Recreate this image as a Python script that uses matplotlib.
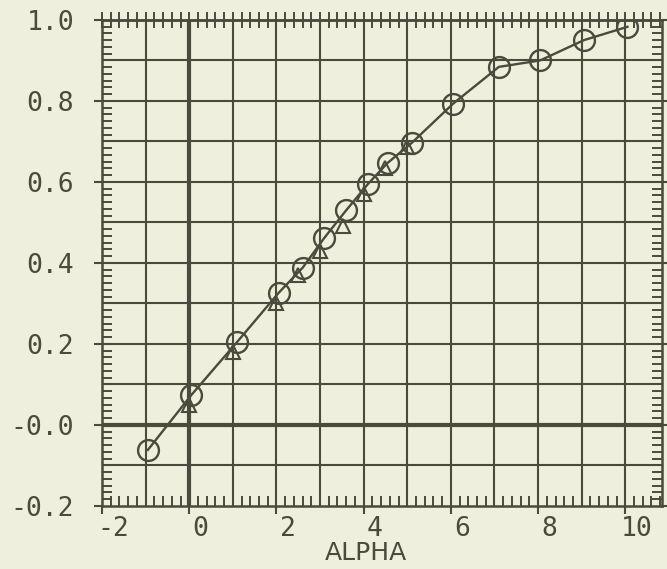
import matplotlib
matplotlib.use('Agg')
import matplotlib.pyplot as plt
import matplotlib.transforms as mtransforms
from matplotlib.ticker import MultipleLocator, FixedLocator, FixedFormatter
import numpy as np

# values
circle_alpha = [-0.95, 0.05, 1.1, 2.05, 2.6, 3.1, 3.6, 4.1, 4.55, 5.1,
                6.05, 7.1, 8.05, 9.05, 10.05]
circle_value = [-0.062, 0.074, 0.205, 0.326, 0.388, 0.462, 0.53, 0.595,
                0.647, 0.696, 0.793, 0.884, 0.9, 0.95, 0.983]
tri_alpha = [0.0, 1.0, 1.98, 2.5, 3.0, 3.52, 4.0, 4.5, 5.0]
tri_value = [0.05, 0.18, 0.30, 0.37, 0.43, 0.49, 0.57, 0.635, 0.686]

xticks = [-2, 0, 2, 4, 6, 8, 10]
xtick_labels = ['-2', '0', '2', '4', '6', '8', '10']
yticks = [-0.2, 0.0, 0.2, 0.4, 0.6, 0.8, 1.0]
ytick_labels = ['-0.2', '-0.0', '0.2', '0.4', '0.6', '0.8', '1.0']

INK = '#4a4a3d'
PAPER = '#efefdd'


def main():
    plt.rcParams['font.family'] = ['DejaVu Sans Mono']
    fig = plt.figure(figsize=(6.67, 5.69), dpi=100, facecolor=PAPER)
    ax = fig.add_axes([0.153, 0.111, 0.84, 0.854])
    ax.set_facecolor(PAPER)
    ax.set_xlim(-2, 10.85)
    ax.set_ylim(-0.2, 1.0)

    # grid paper
    for gx in np.arange(-1, 11, 1):
        ax.axvline(gx, color=INK, lw=3.0 if gx == 0 else 1.5, zorder=1)
    for gy in np.arange(-0.1, 1.0, 0.1):
        ax.axhline(gy, color=INK, lw=3.0 if abs(gy) < 1e-9 else 1.5, zorder=1)

    ax.plot(circle_alpha, circle_value, color=INK, lw=1.7, marker='o',
            ms=15, mfc='none', mec=INK, mew=1.7, zorder=3)
    ax.plot(tri_alpha, tri_value, ls='none', marker='^', ms=10,
            mfc='none', mec=INK, mew=1.5, zorder=3)

    for s in ax.spines.values():
        s.set_color(INK)
        s.set_linewidth(1.8)

    ax.xaxis.set_major_locator(FixedLocator(xticks))
    ax.xaxis.set_major_formatter(FixedFormatter(xtick_labels))
    ax.xaxis.set_minor_locator(MultipleLocator(0.2))
    ax.yaxis.set_major_locator(FixedLocator(yticks))
    ax.yaxis.set_major_formatter(FixedFormatter(ytick_labels))
    ax.yaxis.set_minor_locator(MultipleLocator(0.1 / 6))

    ax.tick_params(which='major', direction='out', length=6, width=1.5,
                   colors=INK, labelsize=19, labelcolor=INK)
    ax.tick_params(axis='x', which='major', pad=1)
    ax.tick_params(axis='y', which='major', pad=14)
    ax.tick_params(which='minor', direction='in', length=7, width=1.4,
                   colors=INK, left=True, right=True, bottom=True)
    ax.tick_params(axis='y', which='major', right=True)

    top = ax.secondary_xaxis('top')
    top.xaxis.set_major_locator(MultipleLocator(0.2))
    top.tick_params(direction='inout', length=11, width=1.4, colors=INK,
                    labeltop=False)
    top.spines['top'].set_color(INK)
    top.spines['top'].set_linewidth(1.8)

    shift = mtransforms.ScaledTranslation(11 / 100, 0, fig.dpi_scale_trans)
    for lab in ax.get_xticklabels():
        lab.set_transform(lab.get_transform() + shift)

    ax.set_xlabel('ALPHA', fontsize=18, color=INK, family='DejaVu Sans')
    ax.xaxis.set_label_coords(0.471, -0.072)

    fig.savefig('out.png', dpi=100, facecolor=PAPER)


if __name__ == '__main__':
    main()
